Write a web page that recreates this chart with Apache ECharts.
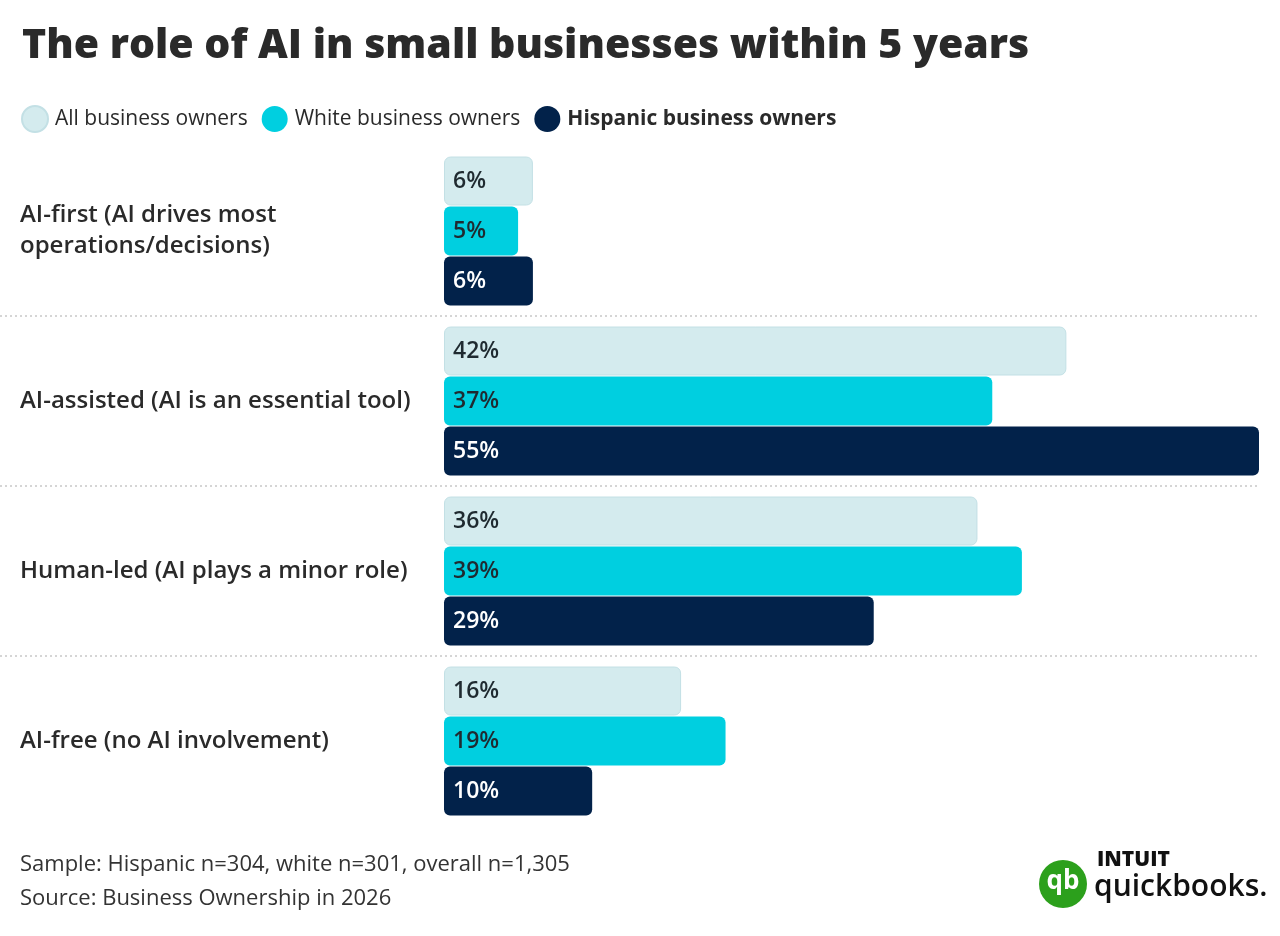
<!DOCTYPE html>
<html><head><meta charset="utf-8">
<script src="https://cdn.jsdelivr.net/npm/echarts@6/dist/echarts.min.js"></script>
<style>html,body{margin:0;background:#fff}#c{width:1280px;height:936px}</style>
</head><body><div id="c"></div>
<script>
var categories = ['AI-first (AI drives most\noperations/decisions)', 'AI-assisted (AI is an essential tool)', 'Human-led (AI plays a minor role)', 'AI-free (no AI involvement)'];
var seriesNames = ['All business owners', 'White business owners', 'Hispanic business owners'];
var allOwners = [6, 42, 36, 16];
var whiteOwners = [5, 37, 39, 19];
var hispanicOwners = [6, 55, 29, 10];

var font = '"Open Sans", sans-serif';
var chart = echarts.init(document.getElementById('c'));

function barSeries(name, data, color, textColor, border) {
  return {
    name: name, type: 'bar', data: data, xAxisIndex: 0, yAxisIndex: 0,
    barWidth: 49, barGap: '2%',
    itemStyle: {color: color, borderRadius: 6, borderColor: border || color, borderWidth: border ? 1 : 0},
    label: {show: true, position: 'insideLeft', distance: 9, formatter: '{c}%',
      fontFamily: font, fontSize: 23, fontWeight: 600, color: textColor}
  };
}

chart.setOption({
  animation: false,
  title: {text: 'The role of AI in small businesses within 5 years', left: 17, top: 21,
    textStyle: {fontFamily: font, fontSize: 41, fontWeight: 800, color: '#2a2a2a'}},
  legend: {left: 16, top: 100, itemWidth: 26, itemHeight: 26, itemGap: 14, icon: 'circle',
    data: seriesNames,
    formatter: function (n) { return n === seriesNames[2] ? '{b|' + n + '}' : n; },
    textStyle: {fontFamily: font, fontSize: 21, color: '#2a2a2a', padding: [0, 0, 0, 2],
      rich: {b: {fontFamily: font, fontSize: 21, fontWeight: 'bold', color: '#2a2a2a'}}}},
  grid: [
    {left: 444, right: 21, top: 146, bottom: 110},
    {left: 0, right: 20, top: 316, bottom: 280}
  ],
  xAxis: [
    {gridIndex: 0, type: 'value', min: 0, max: 55, show: false},
    {gridIndex: 1, type: 'value', min: 0, max: 1, show: false}
  ],
  yAxis: [
    {gridIndex: 0, type: 'category', data: categories, inverse: true,
      axisLine: {show: false}, axisTick: {show: false}, splitLine: {show: false},
      axisLabel: {align: 'left', margin: 424, fontFamily: font, fontSize: 24, fontWeight: 600,
        color: '#2a2a2a', lineHeight: 31}},
    {gridIndex: 1, type: 'category', data: ['', ''], inverse: true,
      axisLine: {show: false}, axisTick: {show: false}, axisLabel: {show: false},
      splitLine: {show: true, lineStyle: {type: [2, 3], color: '#c8c8c8', width: 1.5}}}
  ],
  series: [
    barSeries(seriesNames[0], allOwners, '#d4ebee', '#1f2a30', '#c3e0e5'),
    barSeries(seriesNames[1], whiteOwners, '#00cfe0', '#1f2a30'),
    barSeries(seriesNames[2], hispanicOwners, '#02224a', '#ffffff')
  ],
  graphic: [
    {type: 'text', left: 20, top: 854, style: {text: 'Sample: Hispanic n=304, white n=301, overall n=1,305',
      font: '22px ' + font, fill: '#333'}},
    {type: 'text', left: 20, top: 888, style: {text: 'Source: Business Ownership in 2026',
      font: '22px ' + font, fill: '#333'}},
    {type: 'circle', shape: {cx: 1063, cy: 884, r: 24}, style: {fill: '#2ca01c'}},
    {type: 'text', x: 1063, y: 882, style: {text: 'qb', font: 'bold 26px ' + font, fill: '#fff',
      align: 'center', verticalAlign: 'middle'}},
    {type: 'text', left: 1097, top: 850, style: {text: 'INTUIT', font: '800 21px ' + font, fill: '#111'}},
    {type: 'text', left: 1094, top: 872, style: {text: 'quickbooks.', font: '600 30px ' + font, fill: '#111'}}
  ]
});
</script></body></html>
